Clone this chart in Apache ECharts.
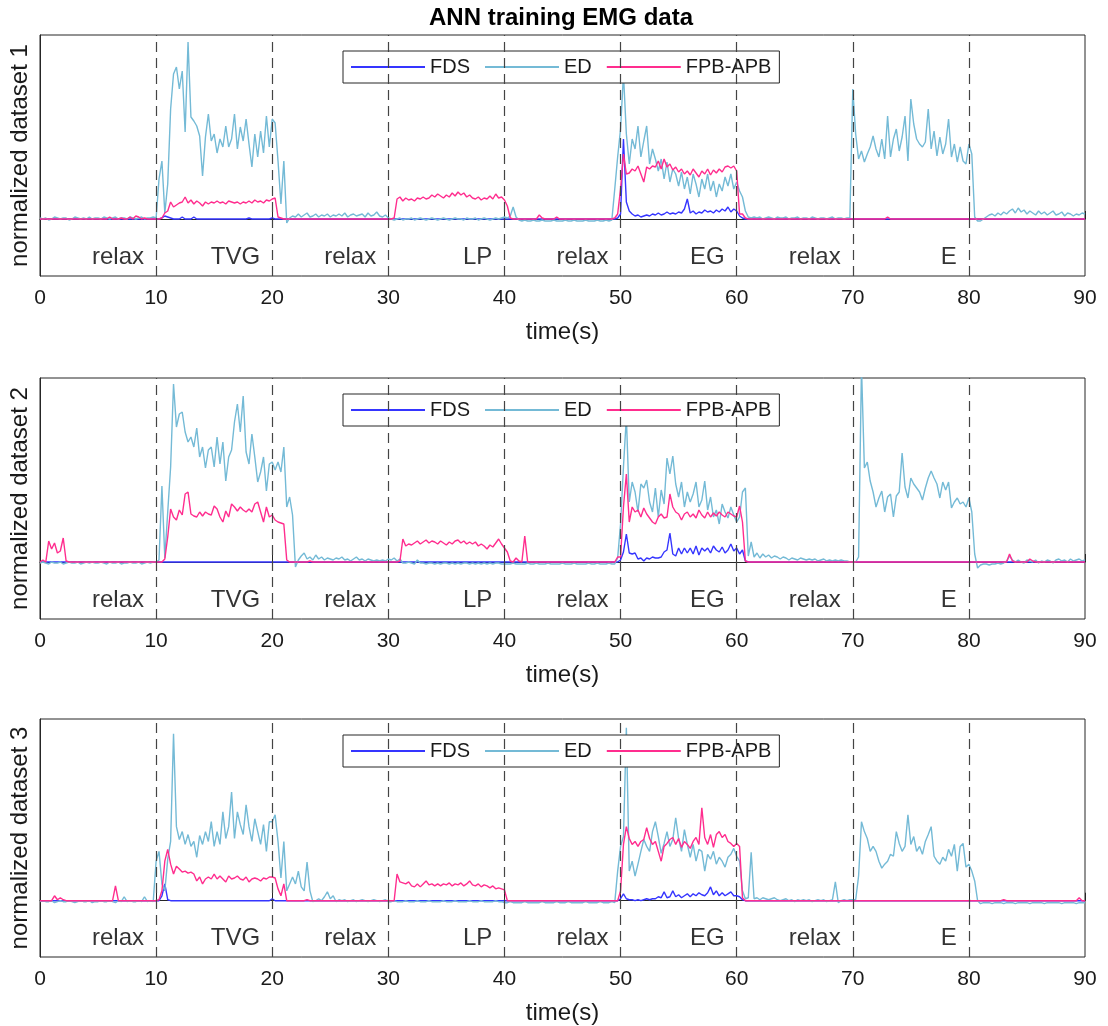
<!DOCTYPE html>
<html>
<head>
<meta charset="utf-8">
<script src="https://cdn.jsdelivr.net/npm/echarts@6/dist/echarts.min.js"></script>
<style>
html,body{margin:0;padding:0;background:#fff;}
#chart{width:1108px;height:1026px;}
</style>
</head>
<body>
<div id="chart"></div>
<script>
// ---------------- data ----------------
const SAMPLE_STEP = 0.25;            // seconds between samples
const xTicks = [0,10,20,30,40,50,60,70,80,90];
const phaseNames = ['relax','TVG','relax','LP','relax','EG','relax','E'];
const phaseEnds = [10,20,30,40,50,60,70,80];
const seriesNames = ['FDS','ED','FPB-APB'];
const panelLabels = ['normalized dataset 1','normalized dataset 2','normalized dataset 3'];
const chartTitle = 'ANN training EMG data';
const xName = 'time(s)';

// dataset 1
const ds1_FDS = [
 [0,0,0,0,0,0,0,0,0,0, 0,0,0,0,0,0,0,0,0,0, 0,0,0,0,0,0,0,0,0,0, 0,0,0,0,0,0,0,0,0,0],
 [0,0,0.01,0.03,0.02,0.01,0,0,0,0.02, 0,0,0,0.02,0,0,0,0,0,0, 0,0,0,0,0,0,0,0,0,0, 0,0,0.01,0,0,0,0,0,0,0],
 [0.01,0,0,0,0,0,0,0,0,0, 0,0,0,0,0,0,0,0,0,0, 0,0,0,0,0,0,0,0,0,0, 0,0,0,0,0,0,0,0,0,0],
 [0,0,0,0,0,0,0,0,0,0, 0,0,0,0,0,0,0,0,0,0, 0,0,0,0,0,0,0,0,0,0, 0,0,0,0,0,0,0,0,0,0],
 [0,0,0,0,0,0,0,0,0,0, 0,0,0,0,0,0,0,0,0,0, 0,0,0,0,0,0,0,0,0,0, 0,0,0,0,0,0,0,0,0,0.01],
 [0.05,0.80,0.17,0.08,0.05,0.03,0.04,0.02,0.03,0.04, 0.03,0.05,0.04,0.06,0.04,0.05,0.07,0.05,0.06,0.05, 0.07,0.06,0.10,0.20,0.06,0.08,0.05,0.07,0.06,0.09, 0.07,0.08,0.06,0.09,0.07,0.10,0.08,0.12,0.07,0.10],
 [0.08,0.03,0.01,0,0,0,0,0,0,0, 0,0,0,0,0,0,0,0,0,0, 0,0,0,0,0,0,0,0,0,0, 0,0,0,0,0,0,0,0,0,0],
 [0,0,0,0,0,0,0,0,0,0, 0,0,0,0,0,0,0,0,0,0, 0,0,0,0,0,0,0,0,0,0, 0,0,0,0,0,0,0,0,0,0],
 [0,0,0,0,0,0,0,0,0,0, 0,0,0,0,0,0,0,0,0,0, 0,0,0,0,0,0,0,0,0,0, 0,0,0,0,0,0,0,0,0,0],
 [0]
];
const ds1_ED = [
 [0.01,0.00,0.01,-0.01,0.00,0.02,0.01,0.00,0.01,0.01, -0.01,0.00,0.02,0.01,0.00,0.01,0.00,0.02,0.00,0.01, 0.01,0.00,0.02,0.01,0.00,0.01,0.02,0.00,0.01,0.01, 0.00,0.02,0.01,0.00,0.01,0.02,0.00,0.01,0.01,0.02],
 [0.01,0.40,0.58,0.06,0.35,1.10,1.45,1.52,1.30,1.48, 0.87,1.77,1.02,0.98,0.93,0.83,0.43,0.82,1.05,0.78, 0.85,0.66,0.80,0.72,0.93,0.72,0.80,1.05,0.70,0.92, 0.78,1.00,0.75,0.52,0.85,0.62,0.88,0.66,1.03,0.72],
 [1.00,0.96,0.58,0.15,0.58,-0.04,0.01,0.03,0.02,0.05, 0.02,0.04,0.06,0.02,0.03,0.05,0.02,0.04,0.03,0.05, 0.02,0.04,0.03,0.05,0.03,0.06,0.02,0.04,0.05,0.03, 0.04,0.05,0.02,0.06,0.03,0.04,0.07,0.03,0.02,0.04],
 [0.01,0.00,-0.01,0.00,0.01,-0.01,0.00,0.00,0.01,-0.01, 0.00,0.01,0.00,-0.01,0.00,0.01,0.00,-0.01,0.00,0.01, 0.00,-0.01,0.00,0.01,0.00,0.00,-0.01,0.01,0.00,0.00, 0.01,-0.01,0.00,0.01,0.00,-0.01,0.00,0.01,0.00,0.01],
 [0.02,0.01,0.03,0.12,0.02,-0.01,-0.02,-0.01,-0.02,-0.02, -0.01,-0.02,-0.02,-0.01,-0.02,-0.02,-0.02,-0.01,-0.02,-0.02, -0.02,-0.01,-0.02,-0.02,-0.01,-0.02,-0.02,-0.02,-0.01,-0.02, -0.02,-0.02,-0.01,-0.02,-0.02,-0.01,-0.02,-0.01,0.30,0.62],
 [0.90,1.45,0.85,0.55,0.80,0.70,0.93,0.62,0.78,0.93, 0.55,0.70,0.60,0.48,0.60,0.40,0.57,0.37,0.50,0.45, 0.33,0.47,0.30,0.42,0.25,0.45,0.35,0.22,0.40,0.30, 0.45,0.28,0.38,0.22,0.35,0.28,0.42,0.33,0.45,0.30],
 [0.37,0.28,0.22,0.08,0.02,0.01,0.02,0.01,0.02,0.00, 0.01,0.02,0.01,0.00,0.02,0.01,0.01,0.02,0.00,0.01, 0.01,0.02,0.00,0.01,0.01,0.00,0.02,0.01,0.00,0.01, 0.01,0.00,0.01,0.02,0.00,0.01,0.01,0.00,0.01,0.01],
 [1.30,0.85,0.60,0.68,0.57,0.65,0.72,0.83,0.70,0.62, 0.80,0.60,1.03,0.62,0.80,0.90,0.68,0.82,1.03,0.58, 1.20,0.95,0.80,0.75,0.72,0.77,1.10,0.70,0.88,0.63, 0.82,0.65,0.75,1.00,0.62,0.75,0.57,0.72,0.58,0.55],
 [0.75,0.65,0.02,-0.02,-0.02,0.00,0.02,0.04,0.05,0.03, 0.06,0.04,0.07,0.05,0.08,0.10,0.06,0.11,0.07,0.09, 0.05,0.08,0.06,0.04,0.08,0.05,0.07,0.04,0.06,0.08, 0.04,0.05,0.07,0.03,0.06,0.05,0.03,0.05,0.04,0.06],
 [0.05]
];
const ds1_FPB = [
 [0,0,0,0,0,0,0,0,0,0, 0,0,0,0,0,0,0,0,0,0, 0,0,0,0,0.02,0,0,0,0.01,0, 0,0.02,0,0.03,0.02,0,0.01,0,0,0],
 [0,0,0.01,0.06,0.08,0.17,0.12,0.14,0.16,0.17, 0.22,0.16,0.19,0.15,0.18,0.16,0.13,0.17,0.15,0.17, 0.16,0.18,0.16,0.17,0.15,0.18,0.17,0.16,0.17,0.15, 0.17,0.16,0.18,0.16,0.19,0.17,0.18,0.16,0.19,0.18],
 [0.20,0.21,0.02,0.01,0,0,0,0,0,0, 0,0,0,0,0,0,0,0,0,0, 0,0,0,0,0,0,0,0,0,0, 0,0,0,0,0,0,0,0,0,0],
 [0,0,0.01,0.20,0.22,0.18,0.21,0.19,0.20,0.18, 0.21,0.20,0.22,0.20,0.21,0.24,0.22,0.25,0.23,0.21, 0.24,0.22,0.26,0.23,0.27,0.24,0.26,0.22,0.24,0.21, 0.20,0.22,0.19,0.21,0.20,0.23,0.20,0.25,0.21,0.22],
 [0.19,0.13,0.01,0,0,0,0,0,0,0, 0,0,0.04,0.01,0,0,0,0,0.02,0, 0,0,0,0,0,0,0,0,0,0, 0,0,0,0,0,0,0,0,0.01,0.05],
 [0.30,0.65,0.45,0.46,0.50,0.48,0.53,0.45,0.37,0.52, 0.50,0.53,0.52,0.58,0.50,0.60,0.52,0.55,0.49,0.52, 0.47,0.50,0.45,0.48,0.44,0.50,0.46,0.42,0.48,0.45, 0.50,0.44,0.49,0.46,0.50,0.47,0.52,0.53,0.51,0.53],
 [0.48,0.05,0.05,0.01,0,0,0,0,0,0, 0,0,0,0,0,0,0,0,0,0, 0,0,0,0,0,0,0,0,0,0, 0,0,0,0,0,0,0,0,0,0],
 [0,0,0,0,0,0,0,0,0,0, 0,0,0.02,0,0,0,0,0,0,0, 0,0,0,0,0,0,0,0,0,0, 0,0,0,0,0,0,0,0,0,0],
 [0,0,0,0,0,0,0,0,0,0, 0,0,0,0,0,0,0,0,0,0, 0,0,0,0,0,0,0,0,0,0, 0,0,0,0,0,0,0,0,0,0],
 [0]
];

// dataset 2
const ds2_FDS = [
 [0,0,0,0,0,0,0,0,0,0, 0,0,0,0,0,0,0,0,0,0, 0,0,0,0,0,0,0,0,0,0, 0,0,0,0,0,0,0,0,0,0],
 [0,0,0,0,0,0,0,0,0,0, 0,0,0,0,0,0,0,0,0,0, 0,0,0,0,0,0,0,0,0,0, 0,0,0,0,0,0,0,0,0,0],
 [0,0,0,0,0,0,0,0,0,0, 0,0,0,0,0,0,0,0,0,0, 0,0,0,0,0,0,0,0,0,0, 0,0,0,0,0,0,0,0,0,0],
 [0,0,0,0,0,0,0,0,0,0, 0,0,0,0,0,0,0,0,0,0, 0,0,0,0,0,0,0,0,0,0, 0,0,0,0,0,0,0,0,0,0],
 [0,0,0,0,0,0,0,0,0,0, 0,0,0,0,0,0,0,0,0,0, 0,0,0,0,0,0,0,0,0,0, 0,0,0,0,0,0,0,0,0,0],
 [0.02,0.10,0.28,0.09,0.08,0.09,0.03,0.04,0.01,0.04, 0.03,0.05,0.04,0.04,0.05,0.10,0.12,0.29,0.08,0.06, 0.14,0.08,0.14,0.09,0.14,0.08,0.16,0.07,0.14,0.11, 0.14,0.09,0.16,0.12,0.10,0.15,0.09,0.12,0.18,0.11],
 [0.14,0.08,0.12,0.01,0,0,0,0,0,0, 0,0,0,0,0,0,0,0,0,0, 0,0,0,0,0,0,0,0,0,0, 0,0,0,0,0,0,0,0,0,0],
 [0,0,0,0,0,0,0,0,0,0, 0,0,0,0,0,0,0,0,0,0, 0,0,0,0,0,0,0,0,0,0, 0,0,0,0,0,0,0,0,0,0],
 [0,0,0,0,0,0,0,0,0,0, 0,0,0,0,0,0,0,0,0,0, 0,0,0,0,0,0,0,0,0,0, 0,0,0,0,0,0,0,0,0,0],
 [0]
];
const ds2_ED = [
 [-0.01,0.00,-0.01,-0.02,0.00,-0.01,-0.01,0.00,-0.02,-0.01, 0.00,-0.01,-0.01,0.00,-0.02,-0.01,0.00,-0.01,0.00,-0.01, -0.01,0.00,-0.01,-0.02,0.00,-0.01,-0.01,0.00,-0.02,-0.01, -0.01,0.00,-0.01,-0.01,0.00,-0.02,-0.01,0.00,-0.01,0.00],
 [0.00,0.02,0.76,0.04,0.50,0.95,1.78,1.35,1.48,1.50, 1.30,1.20,1.25,1.15,1.34,1.05,1.15,0.94,1.12,1.15, 0.95,1.25,0.98,1.20,0.81,1.05,1.12,1.40,1.58,1.30, 1.66,1.10,0.98,1.28,1.05,0.80,0.90,1.05,0.71,0.98],
 [1.00,0.92,1.00,0.90,1.15,0.55,0.65,0.47,-0.05,0.02, 0.06,0.09,0.03,0.05,0.02,0.07,0.03,0.05,0.02,0.04, 0.03,0.02,0.04,0.03,0.05,0.02,0.03,0.01,0.03,0.05, 0.02,0.03,0.01,0.03,0.02,0.01,0.02,0.01,0.02,0.01],
 [0.03,0.02,0.04,0.01,0.03,-0.01,-0.01,0.00,-0.01,-0.02, 0.02,-0.01,-0.01,-0.02,-0.01,-0.01,-0.02,-0.01,-0.02,-0.01, -0.01,-0.02,-0.01,-0.02,-0.01,-0.02,-0.01,-0.01,-0.02,-0.01, -0.02,-0.01,-0.02,-0.01,-0.02,-0.01,-0.02,-0.01,-0.01,-0.02],
 [-0.02,-0.02,-0.02,-0.01,-0.02,-0.02,-0.02,-0.02,-0.01,-0.02, -0.02,-0.01,-0.02,-0.02,-0.02,-0.01,-0.02,-0.02,-0.02,-0.02, -0.01,-0.02,-0.02,-0.02,-0.01,-0.02,-0.02,-0.02,-0.02,-0.01, -0.02,-0.02,-0.01,-0.02,-0.02,-0.02,-0.01,-0.02,-0.02,0.04],
 [0.38,0.95,1.45,0.60,0.80,0.70,0.50,0.78,0.74,0.82, 0.60,0.50,0.74,0.45,0.72,0.58,1.04,0.88,1.06,0.78, 0.65,0.80,0.55,0.70,0.60,0.68,0.80,0.55,0.62,0.81, 0.52,0.65,0.45,0.52,0.38,0.58,0.50,0.44,0.55,0.47],
 [0.40,0.45,0.70,0.74,0.06,0.20,0.05,0.09,0.04,0.08, 0.05,0.07,0.04,0.06,0.05,0.03,0.05,0.04,0.02,0.04, 0.03,0.02,0.04,0.03,0.02,0.03,0.02,0.03,0.01,0.02, 0.03,0.01,0.02,0.01,0.02,0.01,0.02,0.01,0.01,0.00],
 [0.00,0.00,0.05,1.95,0.94,1.00,0.81,0.70,0.55,0.64, 0.71,0.50,0.65,0.68,0.45,0.66,0.70,1.09,0.75,0.64, 0.84,0.78,0.74,0.70,0.62,0.74,0.84,0.91,0.84,0.78, 0.64,0.80,0.72,0.80,0.54,0.60,0.64,0.58,0.60,0.55],
 [0.64,0.50,0.08,-0.06,-0.03,-0.02,-0.02,-0.03,-0.02,-0.02, -0.01,-0.02,-0.01,0.01,0.06,0.02,0.00,0.02,0.00,-0.01, 0.02,0.01,0.00,0.02,-0.01,0.01,0.00,0.02,0.01,-0.01, 0.02,0.03,0.01,0.02,0.00,0.03,0.01,0.02,0.03,0.01],
 [0.02]
];
const ds2_FPB = [
 [0,0.02,0,0.21,0.13,0.19,0.09,0.11,0.24,0.01, 0,0,0,0,0,0,0,0,0,0, 0,0,0,0,0,0,0,0,0,0, 0,0,0,0,0,0,0,0,0,0],
 [0,0,0,0.03,0.25,0.53,0.45,0.42,0.52,0.47, 0.68,0.70,0.48,0.46,0.45,0.50,0.46,0.50,0.48,0.47, 0.56,0.53,0.45,0.40,0.51,0.45,0.58,0.55,0.51,0.55, 0.52,0.50,0.53,0.50,0.58,0.60,0.50,0.40,0.55,0.45],
 [0.47,0.42,0.40,0.39,0.38,0.02,0,0,0,0, 0,0,0,0.01,0,0,0,0,0,0, 0,0,0,0,0,0,0,0,0,0, 0,0,0,0,0,0,0,0,0,0],
 [0,0,0,0,0.01,0.23,0.16,0.18,0.17,0.19, 0.21,0.18,0.20,0.22,0.19,0.21,0.20,0.18,0.21,0.19, 0.17,0.20,0.18,0.21,0.22,0.19,0.21,0.18,0.20,0.18, 0.20,0.16,0.18,0.16,0.13,0.17,0.15,0.19,0.23,0.18],
 [0.14,0.10,0.01,0,0.04,0.01,0,0.26,0,0, 0,0,0,0,0,0,0,0,0,0, 0,0,0,0,0,0,0,0,0,0, 0,0,0,0,0,0,0,0,0,0.05],
 [0.05,0.55,0.88,0.40,0.55,0.50,0.52,0.45,0.54,0.48, 0.44,0.40,0.38,0.45,0.48,0.44,0.45,0.68,0.55,0.50, 0.48,0.42,0.48,0.50,0.45,0.48,0.44,0.52,0.47,0.44, 0.50,0.45,0.49,0.46,0.50,0.47,0.45,0.50,0.48,0.46],
 [0.45,0.56,0.40,0.01,0,0,0,0,0,0, 0,0,0,0,0,0,0,0,0,0, 0,0,0,0,0,0,0,0,0,0, 0,0,0,0,0,0,0,0,0,0],
 [0,0,0,0,0,0,0,0,0,0, 0,0,0,0,0,0,0,0,0,0, 0,0,0,0,0,0,0,0,0,0, 0,0,0,0,0,0,0,0,0,0],
 [0,0,0,0,0,0,0,0,0,0, 0,0,0,0,0.08,0.01,0,0,0,0, 0,0.03,0.01,0,0,0,0,0,0,0, 0,0,0,0,0,0,0,0,0,0],
 [0]
];

// dataset 3
const ds3_FDS = [
 [0,0,0,0,0,0,0,0,0,0, 0,0,0,0,0,0,0,0,0,0, 0,0,0,0,0,0,0,0,0,0, 0,0,0,0,0,0,0,0,0,0],
 [0,0,0.05,0.17,0.01,0,0,0,0,0, 0,0,0,0,0,0,0,0,0,0, 0,0,0,0,0,0,0,0,0,0, 0,0,0,0,0,0,0,0,0,0],
 [0.02,0,0,0,0,0,0,0,0,0, 0,0,0,0,0,0,0,0,0,0, 0,0,0,0,0,0,0,0,0,0, 0,0,0,0,0,0,0,0,0,0],
 [0,0,0,0,0,0,0,0,0,0, 0,0,0,0,0,0,0,0,0,0, 0,0,0,0,0,0,0,0,0,0, 0,0,0,0,0,0,0,0,0,0],
 [0,0,0,0,0,0,0,0,0,0, 0,0,0,0,0,0,0,0,0,0, 0,0,0,0,0,0,0,0,0,0, 0,0,0,0,0,0,0,0,0,0],
 [0.02,0.07,0.02,0.01,0.01,0.00,0.01,0.00,0.01,0.02, 0.01,0.02,0.02,0.04,0.03,0.09,0.03,0.04,0.10,0.04, 0.06,0.03,0.05,0.07,0.04,0.07,0.05,0.08,0.06,0.05, 0.08,0.14,0.06,0.10,0.05,0.08,0.05,0.07,0.09,0.05],
 [0.05,0.04,0.01,0,0,0,0,0,0,0, 0,0,0,0,0,0,0,0,0,0, 0,0,0,0,0,0,0,0,0,0, 0,0,0,0,0,0,0,0,0,0],
 [0,0,0,0,0,0,0,0,0,0, 0,0,0,0,0,0,0,0,0,0, 0,0,0,0,0,0,0,0,0,0, 0,0,0,0,0,0,0,0,0,0],
 [0,0,0,0,0,0,0,0,0,0, 0,0,0,0,0,0,0,0,0,0, 0,0,0,0,0,0,0,0,0,0, 0,0,0,0,0,0,0,0,0,0],
 [0]
];
const ds3_ED = [
 [-0.01,0.00,-0.01,-0.01,0.00,-0.02,-0.01,0.00,-0.01,-0.01, 0.00,-0.01,-0.02,-0.01,0.00,-0.01,-0.01,0.00,-0.02,-0.01, -0.01,0.00,-0.01,-0.01,0.00,-0.01,-0.02,0.00,-0.01,0.04, -0.01,0.00,-0.01,-0.01,0.00,-0.01,0.04,-0.01,0.00,-0.01],
 [0.40,0.50,0.17,0.10,0.42,0.60,1.69,0.75,0.62,0.70, 0.57,0.67,0.55,0.60,0.44,0.66,0.57,0.70,0.60,0.80, 0.55,0.70,0.57,0.90,0.63,0.75,1.10,0.63,0.90,0.77, 0.67,0.97,0.75,0.60,0.83,0.70,0.57,0.77,0.50,0.80],
 [0.80,0.87,0.60,0.23,0.60,0.10,0.17,0.24,0.17,0.30, 0.14,0.10,0.39,0.10,-0.01,0.00,0.02,0.00,0.04,0.09, 0.02,0.05,-0.01,0.01,0.00,0.01,-0.01,0.00,0.01,-0.01, 0.00,0.01,0.00,-0.01,0.00,0.01,0.00,-0.01,0.00,0.01],
 [-0.01,-0.01,0.00,-0.01,-0.01,-0.01,0.00,-0.01,-0.01,-0.01, 0.00,-0.01,-0.01,-0.01,0.00,-0.01,-0.01,-0.01,-0.01,0.00, -0.01,-0.01,-0.01,0.00,-0.01,-0.01,-0.01,-0.01,0.00,-0.01, -0.01,-0.01,0.00,-0.01,-0.01,-0.01,-0.01,0.00,-0.01,-0.01],
 [-0.02,-0.02,-0.01,-0.02,-0.02,-0.02,-0.02,-0.01,-0.02,-0.02, -0.02,-0.02,-0.02,-0.01,-0.02,-0.02,-0.02,-0.02,-0.01,-0.02, -0.02,-0.02,-0.01,-0.02,-0.02,-0.02,-0.02,-0.02,-0.01,-0.02, -0.02,-0.02,-0.02,-0.01,-0.02,-0.02,-0.02,-0.01,-0.02,0.30],
 [0.55,0.65,1.75,0.30,0.40,0.25,0.37,0.50,0.62,0.55, 0.50,0.70,0.80,0.65,0.48,0.58,0.70,0.55,0.62,0.84, 0.63,0.50,0.72,0.57,0.44,0.57,0.40,0.52,0.50,0.30, 0.47,0.42,0.50,0.37,0.44,0.40,0.34,0.44,0.47,0.53],
 [0.45,0.40,0.10,0.02,0.03,0.49,0.02,0.03,0.01,0.03, 0.02,0.01,0.02,0.03,0.01,0.00,0.01,0.02,0.00,0.01, -0.01,0.01,0.00,0.01,0.00,0.01,-0.01,0.00,0.01,0.00, 0.01,-0.01,0.00,0.01,0.19,-0.02,0.00,0.01,0.00,0.01],
 [0.01,0.01,0.25,0.80,0.70,0.63,0.50,0.55,0.50,0.40, 0.33,0.37,0.40,0.47,0.45,0.70,0.58,0.50,0.55,0.87, 0.57,0.65,0.50,0.55,0.47,0.60,0.67,0.75,0.45,0.40, 0.37,0.44,0.40,0.52,0.45,0.57,0.30,0.55,0.58,0.34],
 [0.37,0.30,0.20,0.00,-0.03,-0.02,-0.02,-0.02,-0.03,-0.02, -0.02,-0.02,-0.03,-0.02,-0.02,-0.02,-0.03,-0.02,-0.02,-0.02, -0.02,-0.03,-0.02,-0.02,-0.02,-0.02,-0.03,-0.02,-0.02,-0.02, -0.02,-0.02,-0.03,-0.02,-0.02,-0.02,-0.02,-0.03,-0.02,-0.02],
 [-0.02]
];
const ds3_FPB = [
 [0,0,0,0,0,0.05,0.01,0.03,0.01,0, 0,0,0,0,0,0,0,0,0,0, 0,0,0,0,0,0,0.15,0,0,0, 0,0,0,0,0,0,0,0,0,0],
 [0,0.01,0.10,0.40,0.52,0.37,0.27,0.35,0.32,0.29, 0.30,0.28,0.29,0.27,0.20,0.24,0.17,0.22,0.24,0.22, 0.27,0.22,0.25,0.22,0.19,0.25,0.22,0.23,0.25,0.22, 0.21,0.24,0.19,0.22,0.23,0.22,0.20,0.23,0.22,0.24],
 [0.24,0.23,0.12,0.05,0.17,0,0,0,0,0, 0,0,0.01,0,0,0,0,0,0,0, 0,0,0,0,0,0,0,0,0,0, 0,0,0,0,0,0,0,0,0,0],
 [0,0,0,0.27,0.19,0.18,0.17,0.19,0.15,0.14, 0.17,0.14,0.17,0.20,0.16,0.17,0.15,0.17,0.15,0.17, 0.16,0.18,0.15,0.17,0.16,0.18,0.15,0.17,0.20,0.16, 0.15,0.17,0.14,0.16,0.15,0.13,0.15,0.12,0.13,0.12],
 [0.11,0,0,0,0,0,0,0,0,0, 0,0,0,0,0,0,0,0,0,0, 0,0,0,0,0,0,0,0,0,0, 0,0,0,0,0,0,0,0,0,0],
 [0.10,0.57,0.75,0.63,0.57,0.60,0.55,0.60,0.62,0.74, 0.63,0.57,0.60,0.50,0.40,0.55,0.58,0.62,0.64,0.57, 0.63,0.54,0.60,0.57,0.53,0.60,0.64,0.57,0.94,0.64, 0.57,0.67,0.54,0.67,0.70,0.64,0.67,0.60,0.58,0.55],
 [0.58,0.55,0.03,0,0,0,0,0,0,0, 0,0,0,0,0,0,0,0,0,0, 0,0,0,0,0,0,0,0,0,0, 0,0,0,0,0,0,0,0,0,0],
 [0,0,0,0,0,0,0,0,0,0, 0,0,0,0,0,0,0,0,0,0, 0,0,0,0,0,0,0,0,0,0, 0,0,0,0,0,0,0,0,0,0],
 [0,0,0,0,0,0,0,0,0,0, 0,0,0.01,0,0,0,0,0,0,0, 0,0,0,0,0,0,0,0,0,0, 0,0,0,0,0,0,0,0,0.03,0],
 [0]
];

// ---------------- styling ----------------
const FONT = 'Liberation Sans, Arial, Helvetica, sans-serif';
const TXT = '#1a1a1a';
const AX = '#262626';
const colors = { 'FDS': '#3535ff', 'ED': '#74bad6', 'FPB-APB': '#ff2d8e' };
const GRID_LEFT = 38, GRID_W = 1047, GRID_H = 241;
const gridTops = [35, 378, 719];
const Y_MIN = -0.57, Y_MAX = 1.84;
const PHASE_LABEL_Y = -0.38;
const PHASE_LABEL_BACK = 1;   // label right edge sits 1 s before boundary

const panels = [
  [ds1_FDS, ds1_ED, ds1_FPB],
  [ds2_FDS, ds2_ED, ds2_FPB],
  [ds3_FDS, ds3_ED, ds3_FPB]
];

function toPairs(segments) {
  const vals = segments.flat();
  return vals.map((v, i) => [i * SAMPLE_STEP, v]);
}

const grid = [], xAxis = [], yAxis = [], series = [], legend = [];
gridTops.forEach((top, p) => {
  grid.push({ left: GRID_LEFT, width: GRID_W, top: top, height: GRID_H,
              show: true, borderColor: AX, borderWidth: 1, backgroundColor: '#fff' });
  xAxis.push({
    type: 'value', gridIndex: p, min: 0, max: 90, interval: 10,
    name: xName, nameLocation: 'middle', nameGap: 44,
    nameTextStyle: { fontSize: 24, color: TXT, fontFamily: FONT },
    axisLine: { show: true, lineStyle: { color: AX, width: 1 } },
    axisTick: { show: true, inside: true, length: 8, lineStyle: { color: AX } },
    axisLabel: { fontSize: 21, color: TXT, fontFamily: FONT, margin: 12,
                 customValues: xTicks },
    splitLine: { show: false }
  });
  yAxis.push({
    type: 'value', gridIndex: p, min: Y_MIN, max: Y_MAX,
    name: panelLabels[p], nameLocation: 'middle', nameGap: 8,
    nameTextStyle: { fontSize: 24, color: TXT, fontFamily: FONT },
    axisLine: { show: true, onZero: false, lineStyle: { color: AX, width: 1 } },
    axisTick: { show: false }, axisLabel: { show: false }, splitLine: { show: false }
  });
  // phase boundaries
  series.push({
    type: 'line', xAxisIndex: p, yAxisIndex: p, data: [], silent: true, z: 1,
    markLine: { silent: true, symbol: ['none', 'none'], animation: false,
      label: { show: false },
      lineStyle: { color: '#444444', type: [10, 6], width: 1.2 },
      data: phaseEnds.map(v => ({ xAxis: v })) }
  });
  // EMG traces
  panels[p].forEach((segs, s) => {
    const name = seriesNames[s];
    series.push({
      type: 'line', name: name, xAxisIndex: p, yAxisIndex: p,
      data: toPairs(segs), showSymbol: false, symbol: 'none', clip: true,
      lineStyle: { color: colors[name], width: 1.4 }, itemStyle: { color: colors[name] },
      z: 2 + s, animation: false
    });
  });
  // phase labels
  series.push({
    type: 'scatter', xAxisIndex: p, yAxisIndex: p, silent: true, z: 6,
    symbolSize: 1, itemStyle: { color: 'rgba(0,0,0,0)' },
    data: phaseNames.map((n, j) => ({ name: n, value: [phaseEnds[j] - PHASE_LABEL_BACK, PHASE_LABEL_Y] })),
    label: { show: true, position: 'left', distance: 0, formatter: '{b}',
             fontSize: 24, color: '#000', fontFamily: FONT }
  });
  legend.push({
    data: seriesNames, left: 343, top: top + 16, orient: 'horizontal',
    icon: 'rect', itemWidth: 74, itemHeight: 2, itemGap: 15,
    padding: [6, 8], borderColor: AX, borderWidth: 1, borderRadius: 0,
    backgroundColor: '#fff', selectedMode: false,
    textStyle: { fontSize: 20, color: TXT, fontFamily: FONT }
  });
});

const chart = echarts.init(document.getElementById('chart'), null, { renderer: 'canvas' });
chart.setOption({
  backgroundColor: '#fff',
  animation: false,
  title: { text: chartTitle, left: 561, top: 6, textAlign: 'center', padding: 0,
           textStyle: { fontSize: 24, fontWeight: 'bold', color: '#000', fontFamily: FONT } },
  grid, xAxis, yAxis, legend, series
});
</script>
</body>
</html>
